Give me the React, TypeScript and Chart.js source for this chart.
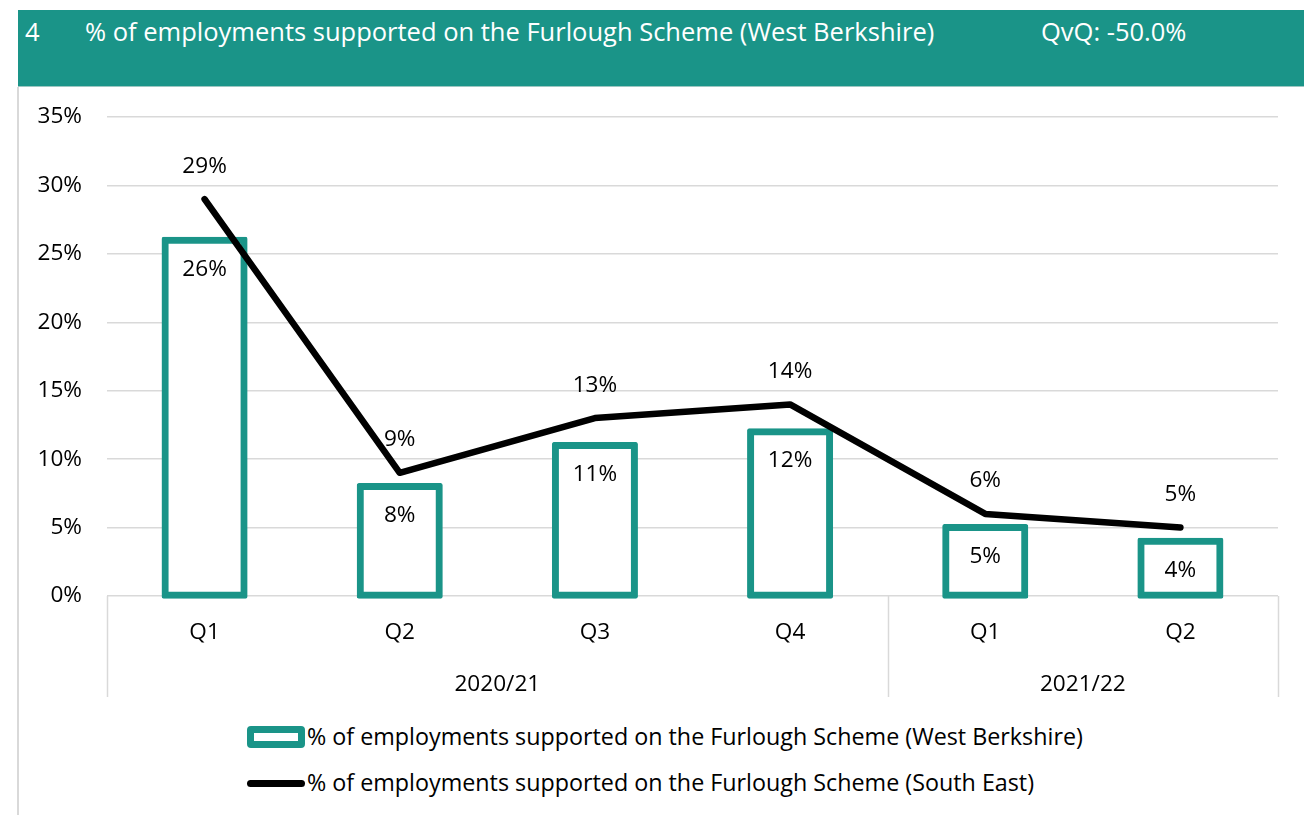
import React, { useEffect, useRef } from 'react';
import { Chart, registerables } from 'chart.js';

Chart.register(...registerables);

const categories = ['Q1', 'Q2', 'Q3', 'Q4', 'Q1', 'Q2'];
const yearLabels = ['2020/21', '2021/22'];
const yearSpans = [4, 2];
const westBerkshire = [26, 8, 11, 12, 5, 4];
const southEast = [29, 9, 13, 14, 6, 5];
const yMin = 0;
const yMax = 35;
const yStep = 5;
const seriesNames = [
  '% of employments supported on the Furlough Scheme (West Berkshire)',
  '% of employments supported on the Furlough Scheme (South East)',
];
const headerNumber = '4';
const headerTitle = '% of employments supported on the Furlough Scheme (West Berkshire)';
const headerQvQ = 'QvQ: -50.0%';

const TEAL = '#1a9488';
const FONT = "'Open Sans', sans-serif";
const FONT_SIZE = 22.6;
const HEADER_SIZE = 25.5;

const valueLabelPlugin = {
  id: 'valueLabels',
  afterDatasetsDraw(chart: any) {
    const ctx = chart.ctx;
    ctx.save();
    ctx.font = `${FONT_SIZE}px ${FONT}`;
    ctx.fillStyle = '#000';
    ctx.textAlign = 'center';
    ctx.textBaseline = 'middle';
    const barMeta = chart.getDatasetMeta(0);
    barMeta.data.forEach((el: any, i: number) => {
      ctx.fillText(westBerkshire[i] + '%', el.x, el.y + 29);
    });
    const lineMeta = chart.getDatasetMeta(1);
    lineMeta.data.forEach((el: any, i: number) => {
      ctx.fillText(southEast[i] + '%', el.x, el.y - 33);
    });
    ctx.restore();
  },
};

const groupAxisPlugin = {
  id: 'groupAxis',
  afterDraw(chart: any) {
    const ctx = chart.ctx;
    const x = chart.scales.x;
    const bottom = chart.chartArea.bottom;
    const step = x.getPixelForValue(1) - x.getPixelForValue(0);
    ctx.save();
    ctx.strokeStyle = '#d9d9d9';
    ctx.lineWidth = 1.5;
    ctx.font = `${FONT_SIZE}px ${FONT}`;
    ctx.fillStyle = '#000';
    ctx.textAlign = 'center';
    ctx.textBaseline = 'middle';
    let idx = 0;
    const bounds: number[] = [];
    yearSpans.forEach((span, g) => {
      const left = x.getPixelForValue(idx) - step / 2;
      const right = x.getPixelForValue(idx + span - 1) + step / 2;
      if (g === 0) bounds.push(left);
      bounds.push(right);
      ctx.fillText(yearLabels[g], (left + right) / 2, bottom + 89);
      idx += span;
    });
    bounds.forEach((bx) => {
      const px = Math.round(bx) + 0.5;
      ctx.beginPath();
      ctx.moveTo(px, bottom);
      ctx.lineTo(px, bottom + 101);
      ctx.stroke();
    });
    ctx.restore();
  },
};

export default function App() {
  const canvasRef = useRef<HTMLCanvasElement | null>(null);

  useEffect(() => {
    if (!canvasRef.current) return;
    const chart = new Chart(canvasRef.current, {
      type: 'bar',
      data: {
        labels: categories,
        datasets: [
          {
            type: 'bar',
            label: seriesNames[0],
            data: westBerkshire,
            backgroundColor: '#ffffff',
            borderColor: TEAL,
            borderWidth: 7,
            borderSkipped: false,
            borderRadius: 2,
            inflateAmount: 3.5,
            categoryPercentage: 1,
            barPercentage: 0.405,
            order: 2,
            clip: false,
          } as any,
          {
            type: 'line',
            label: seriesNames[1],
            data: southEast,
            borderColor: '#000000',
            backgroundColor: '#000000',
            borderWidth: 6.5,
            borderCapStyle: 'round',
            borderJoinStyle: 'round',
            pointRadius: 0,
            tension: 0,
            order: 1,
            clip: false,
          } as any,
        ],
      },
      options: {
        responsive: false,
        animation: false,
        layout: { padding: { top: 29, right: 26, left: 0, bottom: 0 } },
        plugins: {
          legend: { display: false },
          tooltip: { enabled: false },
          title: { display: false },
        },
        scales: {
          x: {
            type: 'category',
            offset: true,
            grid: { display: false, drawTicks: false },
            border: { display: false },
            ticks: {
              color: '#000',
              font: { family: FONT, size: FONT_SIZE },
              padding: 23,
              maxRotation: 0,
              autoSkip: false,
            },
            afterFit: (scale: any) => {
              scale.height = 112;
            },
          },
          y: {
            min: yMin,
            max: yMax,
            grid: { color: '#d9d9d9', lineWidth: 1.5, drawTicks: false },
            border: { display: false },
            ticks: {
              stepSize: yStep,
              color: '#000',
              font: { family: FONT, size: FONT_SIZE },
              padding: 25,
              callback: (v: any) => v + '%',
            },
            afterFit: (scale: any) => {
              scale.width = 89;
              scale.paddingTop = 0;
              scale.paddingBottom = 0;
            },
          },
        },
      } as any,
      plugins: [valueLabelPlugin, groupAxisPlugin],
    });
    return () => chart.destroy();
  }, []);

  const textBase: React.CSSProperties = {
    position: 'absolute',
    fontFamily: FONT,
    whiteSpace: 'nowrap',
    lineHeight: 1,
  };

  return (
    <div style={{ position: 'absolute', left: 0, top: 0, width: 1304, height: 815, overflow: 'hidden', background: '#fff' }}>
      <div style={{ position: 'absolute', left: 18, top: 10, width: 1286, height: 76, background: TEAL }}>
        <span style={{ ...textBase, left: 7, top: 22, transform: 'translateY(-50%)', color: '#fff', fontSize: HEADER_SIZE }}>{headerNumber}</span>
        <span style={{ ...textBase, left: 67, top: 22, transform: 'translateY(-50%)', color: '#fff', fontSize: HEADER_SIZE }}>{headerTitle}</span>
        <span style={{ ...textBase, left: 1023, top: 22, transform: 'translateY(-50%)', color: '#fff', fontSize: HEADER_SIZE }}>{headerQvQ}</span>
      </div>
      <div style={{ position: 'absolute', left: 18, top: 86, width: 1286, height: 1, background: '#9cc7c2' }} />
      <div style={{ position: 'absolute', left: 17, top: 87, width: 2, height: 728, background: '#d9d9d9' }} />
      <div style={{ position: 'absolute', left: 18, top: 88, width: 1286, height: 620 }}>
        <canvas ref={canvasRef} width={1286} height={620} style={{ display: 'block', width: 1286, height: 620 }} />
      </div>
      <div style={{ position: 'absolute', left: 247, top: 726, width: 58, height: 22, boxSizing: 'border-box', border: `7px solid ${TEAL}`, borderRadius: 4, background: '#fff' }} />
      <span style={{ ...textBase, left: 307, top: 737, transform: 'translateY(-50%)', fontSize: 23.3, color: '#000' }}>{seriesNames[0]}</span>
      <div style={{ position: 'absolute', left: 247, top: 779.5, width: 58, height: 7, borderRadius: 4, background: '#000' }} />
      <span style={{ ...textBase, left: 307, top: 783, transform: 'translateY(-50%)', fontSize: 23.3, color: '#000' }}>{seriesNames[1]}</span>
    </div>
  );
}
